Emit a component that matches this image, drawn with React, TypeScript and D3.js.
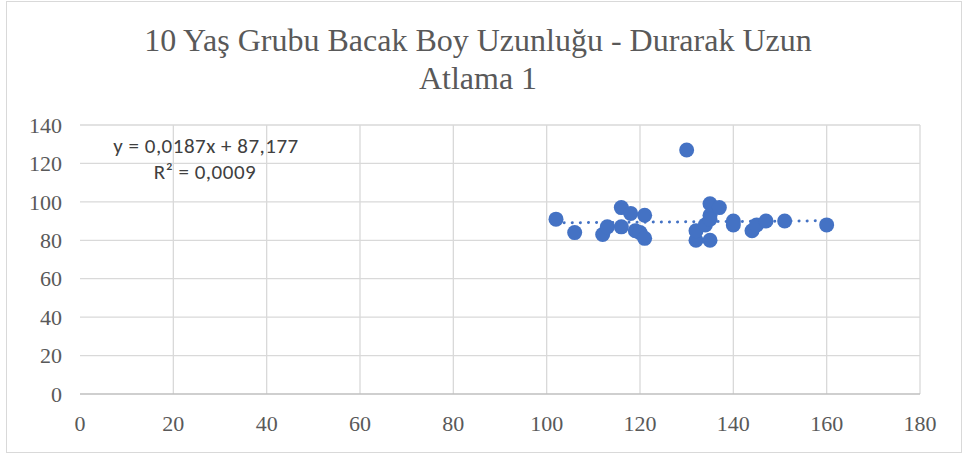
import { useEffect, useRef } from 'react'
import * as d3 from 'd3'

const xValues = [102, 106, 112, 113, 116, 116, 118, 119, 120, 121, 121, 130, 132, 132, 134, 135, 135, 135, 137, 140, 140, 144, 145, 147, 151, 160, 135]
const yValues = [91, 84, 83, 87, 97, 87, 94, 85, 84, 93, 81, 127, 80, 85, 88, 99, 93, 80, 97, 90, 88, 85, 88, 90, 90, 88, 91]
const xTicks = [0, 20, 40, 60, 80, 100, 120, 140, 160, 180]
const yTicks = [0, 20, 40, 60, 80, 100, 120, 140]
const titleLines = ['10 Yaş Grubu Bacak Boy Uzunluğu - Durarak Uzun', 'Atlama 1']
const slope = 0.0187
const intercept = 87.177
const equationText = 'y = 0,0187x + 87,177'
const r2Text = 'R² = 0,0009'

const W = 968
const H = 457

export default function App() {
  const svgRef = useRef<SVGSVGElement>(null)

  useEffect(() => {
    if (!svgRef.current) return
    const root = d3.select(svgRef.current)
    root.selectAll('*').remove()

    const margin = { top: 125, right: 48, bottom: 63, left: 80 }
    const innerWidth = W - margin.left - margin.right
    const innerHeight = H - margin.top - margin.bottom

    // chart border
    root.append('rect')
      .attr('x', 6.5).attr('y', 1.5)
      .attr('width', W - 13).attr('height', H - 6)
      .attr('fill', '#fff').attr('stroke', '#d9d9d9')

    // title
    const title = root.append('text')
      .attr('text-anchor', 'middle')
      .attr('font-family', '"Liberation Serif", "Times New Roman", serif')
      .attr('font-size', 32)
      .attr('fill', '#595959')
    titleLines.forEach((t, i) => {
      title.append('tspan').attr('x', 478).attr('y', 51 + i * 38).text(t)
    })

    const svg = root.append('g').attr('transform', `translate(${margin.left},${margin.top})`)

    const x = d3.scaleLinear().domain([0, 180]).range([0, innerWidth])
    const y = d3.scaleLinear().domain([0, 140]).range([innerHeight, 0])

    // gridlines
    svg.append('g').selectAll('line.v')
      .data(xTicks.slice(1))
      .join('line')
      .attr('x1', d => x(d)).attr('x2', d => x(d))
      .attr('y1', 0).attr('y2', innerHeight)
      .attr('stroke', '#d9d9d9').attr('stroke-width', 1.3)
    svg.append('g').selectAll('line.h')
      .data(yTicks.slice(1))
      .join('line')
      .attr('x1', 0).attr('x2', innerWidth)
      .attr('y1', d => y(d)).attr('y2', d => y(d))
      .attr('stroke', '#d9d9d9').attr('stroke-width', 1.3)

    // axis line
    svg.append('line')
      .attr('x1', 0).attr('x2', innerWidth)
      .attr('y1', innerHeight).attr('y2', innerHeight)
      .attr('stroke', '#bfbfbf').attr('stroke-width', 1.5)

    // tick labels
    const labelFont = '"Liberation Serif", "Times New Roman", serif'
    svg.append('g').selectAll('text')
      .data(yTicks)
      .join('text')
      .attr('x', -18).attr('y', d => y(d))
      .attr('dy', '0.35em')
      .attr('text-anchor', 'end')
      .attr('font-family', labelFont).attr('font-size', 22)
      .attr('fill', '#595959')
      .text(d => d)
    svg.append('g').selectAll('text')
      .data(xTicks)
      .join('text')
      .attr('x', d => x(d)).attr('y', innerHeight + 37)
      .attr('text-anchor', 'middle')
      .attr('font-family', labelFont).attr('font-size', 22)
      .attr('fill', '#595959')
      .text(d => d)

    // trendline
    const x0 = d3.min(xValues)!
    const x1 = d3.max(xValues)!
    svg.append('line')
      .attr('x1', x(x0)).attr('x2', x(x1))
      .attr('y1', y(slope * x0 + intercept)).attr('y2', y(slope * x1 + intercept))
      .attr('stroke', '#4472c4').attr('stroke-width', 3)
      .attr('stroke-linecap', 'round')
      .attr('stroke-dasharray', '0.1 8')

    // points
    const points = xValues.map((v, i) => ({ x: v, y: yValues[i] }))
    svg.append('g').selectAll('circle')
      .data(points)
      .join('circle')
      .attr('cx', d => x(d.x)).attr('cy', d => y(d.y))
      .attr('r', 7.5)
      .attr('fill', '#4472c4')

    // equation label
    const eqStyle = (sel: d3.Selection<SVGTextElement, unknown, null, undefined>) => sel
      .attr('font-family', 'Carlito, Calibri, "Liberation Sans", sans-serif')
      .attr('font-size', 21)
      .attr('letter-spacing', 0.5)
      .attr('fill', '#404040')
      .attr('text-anchor', 'middle')
    root.append('text').call(eqStyle)
      .attr('x', 206).attr('y', 153).text(equationText)
    root.append('text').call(eqStyle)
      .attr('x', 205).attr('y', 179).text(r2Text)
  }, [])

  return (
    <svg
      ref={svgRef}
      width={W}
      height={H}
      style={{ position: 'absolute', left: 0, top: 0, background: '#fff' }}
    />
  )
}
